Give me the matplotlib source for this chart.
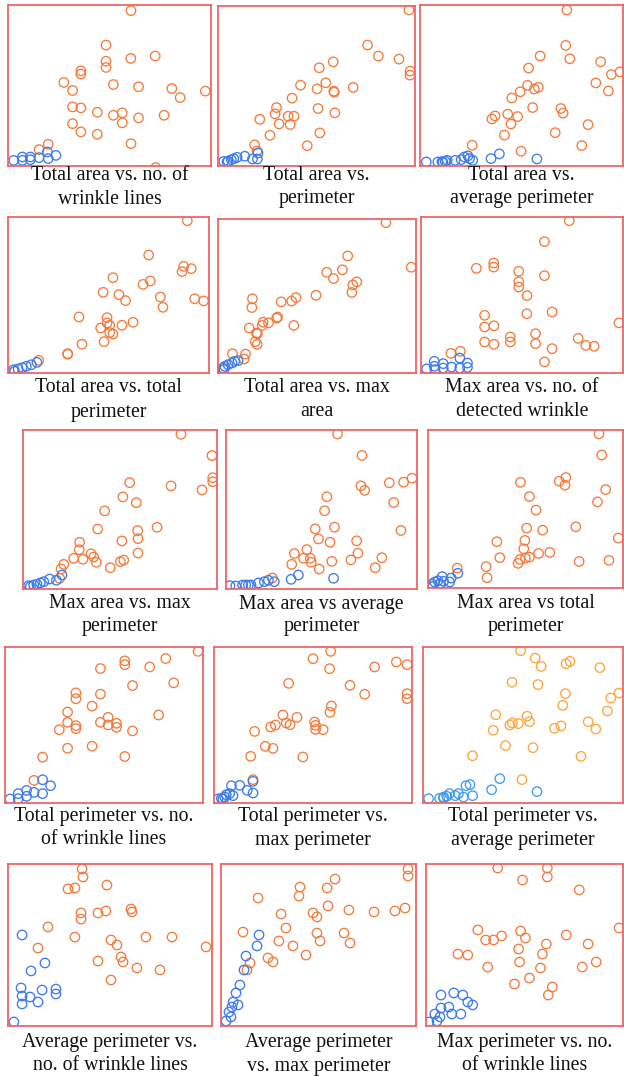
import matplotlib
matplotlib.use("Agg")
import matplotlib.pyplot as plt
import numpy as np

# relative values (0-100), (x, y)
p1_orange = [(60.6, 96.5), (48.3, 75.1), (60.5, 66.8), (72.5, 68.3), (48.3, 65.1), (48.3, 61.2),
             (35.9, 59.1), (35.9, 57.1), (27.5, 51.9), (31.8, 46.9), (51.9, 50.6), (64.3, 49.2),
             (80.7, 48.1), (84.8, 42.5), (97.2, 46.5), (31.8, 36.7), (35.9, 36.1), (44.0, 33.4),
             (51.9, 31.5), (56.3, 33.0), (56.3, 26.8), (64.3, 29.9), (76.9, 31.5), (31.8, 26.3),
             (35.9, 21.2), (44.0, 19.7), (60.6, 13.9), (19.8, 13.5), (15.3, 10.2), (72.7, -1.0)]
p1_blue = [(2.8, 3.5), (7.1, 5.6), (11.0, 5.6), (7.1, 3.5), (11.0, 3.9), (15.3, 5.2),
           (19.4, 8.7), (19.8, 4.6), (23.6, 6.6)]

p2_orange = [(96.9, 97.5), (75.9, 75.6), (81.4, 68.7), (91.9, 66.8), (97.5, 59.3), (97.5, 56.8),
             (58.5, 65.1), (51.4, 61.4), (41.9, 50.5), (54.7, 52.0), (50.3, 48.2), (58.8, 46.8),
             (59.0, 46.1), (68.6, 49.1), (37.6, 42.4), (29.7, 36.5), (29.0, 32.6), (35.6, 31.1),
             (38.6, 31.1), (50.8, 35.9), (59.3, 33.2), (21.2, 29.2), (31.0, 26.3), (36.6, 25.9),
             (26.4, 19.2), (51.7, 20.7), (45.3, 12.7), (18.6, 13.2), (19.8, 9.4)]
p2_blue = [(2.9, 2.9), (5.1, 3.1), (6.8, 3.9), (8.0, 4.6), (9.7, 5.4), (13.6, 6.1),
           (17.5, 4.4), (20.0, 4.4), (20.3, 8.1), (4.6, 2.5)]

p3_orange = [(72.3, 96.9), (71.8, 74.9), (73.8, 66.6), (59.2, 68.3), (89.0, 64.7), (53.5, 60.8),
             (94.3, 56.8), (98.5, 58.5), (86.6, 51.6), (92.8, 46.6), (53.0, 50.1), (49.4, 46.1),
             (56.3, 47.8), (58.3, 48.9), (45.2, 42.2), (55.5, 36.3), (69.4, 35.7), (70.5, 32.8),
             (43.2, 32.2), (48.1, 30.7), (37.0, 31.1), (35.4, 29.2), (44.8, 26.1), (82.8, 25.7),
             (41.6, 19.2), (66.6, 20.7), (25.7, 12.9), (49.8, 9.2), (79.7, 12.7)]
p3_blue = [(3.1, 2.5), (8.8, 2.5), (10.8, 2.7), (12.4, 2.9), (13.4, 3.5), (17.3, 3.5),
           (20.3, 4.0), (21.9, 5.6), (23.6, 6.3), (24.4, 4.6), (26.0, 3.5), (35.0, 4.6),
           (39.1, 7.5), (57.6, 4.4), (11.3, 2.3)]

p4_orange = [(89.2, 97.6), (70.0, 75.6), (87.4, 68.4), (91.2, 66.9), (86.6, 65.0), (52.2, 61.1),
             (70.8, 59.0), (67.2, 56.8), (47.3, 51.7), (55.2, 50.2), (58.5, 46.4), (75.8, 48.7),
             (77.1, 42.1), (92.9, 47.6), (97.3, 46.2), (35.3, 35.9), (49.3, 35.5), (49.3, 32.1),
             (50.6, 30.6), (46.1, 28.8), (56.7, 30.6), (62.2, 32.5), (50.6, 25.9), (52.2, 25.0),
             (47.8, 20.1), (36.8, 18.4), (29.7, 12.4), (29.7, 12.0), (15.3, 8.1)]
p4_blue = [(2.8, 2.1), (5.0, 2.6), (7.1, 3.4), (9.1, 4.3), (11.6, 5.3), (14.4, 6.8), (3.3, 1.1)]

p5_orange = [(84.8, 97.6), (65.5, 76.0), (97.6, 68.7), (54.9, 65.4), (62.8, 67.0), (58.3, 61.3),
             (70.1, 59.2), (68.1, 57.2), (67.6, 52.3), (49.5, 50.5), (39.4, 49.0), (37.2, 46.7),
             (31.9, 46.2), (17.4, 48.2), (17.1, 42.5), (30.1, 36.3), (29.6, 35.6), (25.5, 32.6),
             (22.8, 33.0), (22.3, 30.9), (15.7, 29.2), (19.4, 25.9), (19.9, 25.5), (38.3, 30.9),
             (18.8, 20.3), (19.8, 18.6), (7.3, 12.5), (13.9, 12.3), (13.2, 9.1)]
p5_blue = [(2.5, 3.2), (3.4, 4.3), (5.1, 5.4), (7.1, 6.5), (8.4, 7.6), (10.1, 8.0), (3.0, 2.2)]

p6_orange = [(73.4, 97.6), (61.1, 84.2), (36.0, 70.5), (36.0, 67.9), (27.4, 67.1), (48.4, 65.2),
             (61.1, 62.4), (48.4, 58.5), (48.4, 55.1), (52.5, 49.6), (31.5, 37.0), (52.4, 38.0),
             (64.9, 39.1), (36.1, 30.3), (31.5, 29.5), (98.0, 32.1), (44.2, 23.1), (44.2, 19.9),
             (56.7, 25.2), (56.7, 18.8), (31.5, 19.9), (36.1, 18.4), (64.9, 15.6), (77.8, 22.2),
             (81.6, 17.7), (85.7, 17.1), (61.1, 7.1), (14.8, 12.6), (19.5, 13.9)]
p6_blue = [(2.8, 2.6), (6.6, 7.5), (6.6, 4.3), (11.0, 6.0), (11.0, 3.2), (15.1, 3.8),
           (19.2, 9.6), (19.2, 3.2), (23.0, 6.4), (23.0, 3.6), (6.9, 2.1)]

p7_orange = [(81.4, 97.3), (97.4, 83.9), (97.8, 70.0), (97.8, 67.5), (55.0, 66.9), (76.3, 64.8),
             (92.3, 62.3), (51.5, 57.9), (58.4, 54.3), (42.1, 49.1), (38.5, 37.7), (69.1, 38.8),
             (59.1, 36.7), (59.3, 31.7), (51.0, 30.2), (29.2, 29.4), (29.0, 24.7), (35.1, 22.2),
             (36.4, 20.1), (37.8, 16.8), (26.1, 19.3), (30.9, 18.7), (59.3, 22.6), (51.9, 18.2),
             (50.2, 17.2), (45.0, 13.4), (21.0, 15.5), (19.6, 12.6), (18.9, 6.7)]
p7_blue = [(2.9, 2.1), (5.5, 2.5), (7.2, 2.9), (8.9, 3.8), (10.7, 4.6), (13.7, 6.3),
           (17.2, 5.5), (20.1, 8.8), (3.8, 1.5)]

p8_orange = [(58.4, 97.5), (71.2, 84.0), (85.5, 66.8), (93.0, 67.2), (97.4, 69.7), (70.6, 64.9),
             (72.6, 62.0), (52.8, 58.0), (87.8, 54.4), (51.6, 49.2), (56.8, 38.9), (46.7, 37.8),
             (48.4, 31.5), (54.5, 29.4), (91.6, 36.8), (68.4, 30.3), (69.1, 22.5), (42.3, 24.8),
             (35.8, 22.3), (40.6, 19.3), (44.1, 19.3), (44.6, 16.8), (34.4, 15.5), (55.4, 17.4),
             (65.4, 18.3), (81.6, 19.7), (78.1, 13.4), (48.8, 12.6), (24.3, 6.9)]
p8_blue = [(2.1, 2.1), (8.7, 2.5), (10.3, 2.5), (11.7, 2.5), (13.1, 2.5), (17.0, 3.8),
           (20.1, 4.6), (22.2, 5.5), (25.3, 4.6), (34.1, 6.1), (37.9, 8.8), (56.3, 6.7), (5.1, 1.9)]

p9_orange = [(87.7, 97.5), (89.1, 84.2), (70.7, 69.9), (67.3, 67.6), (70.2, 65.1), (47.4, 66.9),
             (91.1, 62.3), (86.9, 54.5), (52.0, 57.9), (55.4, 49.3), (75.8, 38.7), (50.6, 37.9),
             (58.8, 36.6), (97.6, 31.6), (35.3, 29.3), (49.7, 30.1), (49.1, 24.8), (62.5, 22.5),
             (56.7, 21.9), (52.0, 19.6), (49.9, 18.9), (47.2, 18.1), (46.2, 15.6), (36.8, 19.2),
             (77.5, 16.8), (92.8, 17.5), (29.8, 13.5), (30.3, 6.5), (15.0, 12.6)]
p9_blue = [(2.2, 2.5), (3.4, 3.8), (5.1, 4.6), (7.3, 7.2), (8.0, 4.2), (11.1, 3.8),
           (11.9, 6.3), (15.3, 9.3), (2.6, 1.1), (6.0, 2.5)]

p10_orange = [(97.5, 97.2), (81.2, 92.6), (60.5, 91.1), (60.5, 88.7), (73.1, 87.2), (48.2, 86.2),
              (85.2, 77.0), (64.4, 75.3), (35.8, 70.6), (35.8, 66.8), (48.2, 69.8), (44.0, 62.1),
              (31.6, 58.3), (77.6, 56.4), (52.1, 54.9), (31.6, 51.7), (35.8, 49.6), (35.8, 47.7),
              (48.2, 51.7), (52.1, 50.0), (56.3, 51.1), (56.3, 48.5), (64.4, 46.2), (27.4, 47.0),
              (31.6, 35.1), (44.0, 36.4), (60.5, 29.8), (19.0, 29.4), (14.6, 14.5)]
p10_blue = [(2.5, 2.6), (6.7, 6.0), (6.7, 2.8), (10.9, 8.1), (10.9, 4.3), (14.6, 6.8),
            (19.0, 14.9), (19.0, 6.0), (23.0, 11.1)]

p11_orange = [(58.9, 97.2), (50.0, 92.5), (92.1, 90.4), (97.5, 88.7), (81.1, 87.2), (58.4, 86.1),
              (37.7, 76.7), (68.7, 75.4), (76.1, 69.7), (97.5, 70.1), (97.5, 66.9), (59.3, 62.2),
              (58.6, 58.1), (34.8, 56.4), (41.9, 54.9), (36.5, 51.3), (38.4, 50.2), (50.8, 51.9),
              (51.3, 49.8), (51.3, 47.2), (55.1, 47.0), (31.0, 50.0), (28.6, 48.7), (20.5, 45.9),
              (25.9, 36.3), (29.8, 35.0), (18.5, 29.9), (44.9, 29.5), (19.7, 15.0)]
p11_blue = [(2.0, 2.6), (3.7, 3.0), (5.4, 3.8), (6.2, 5.3), (7.9, 6.0), (8.8, 11.1),
            (9.6, 4.7), (13.0, 11.3), (16.8, 8.1), (19.7, 6.4), (19.7, 13.9), (4.5, 2.6)]

p12_orange = [(48.8, 97.6), (56.1, 92.9), (59.1, 87.6), (71.5, 89.3), (73.5, 90.8), (88.4, 86.8),
              (44.5, 77.4), (57.5, 75.9), (71.2, 70.1), (98.0, 70.5), (93.9, 67.3), (69.9, 62.6),
              (92.2, 59.0), (36.4, 56.6), (52.0, 55.6), (53.3, 52.1), (43.4, 50.0), (44.7, 51.3),
              (47.7, 50.9), (35.1, 46.6), (65.7, 47.9), (69.0, 49.4), (82.6, 52.1), (86.4, 47.4),
              (41.2, 36.8), (55.0, 35.5), (79.0, 29.9), (24.8, 30.3), (49.5, 15.0)]
p12_blue = [(2.8, 2.8), (8.3, 3.0), (10.3, 3.8), (11.9, 4.3), (13.2, 6.0), (16.1, 4.7),
            (17.7, 6.0), (20.2, 3.8), (21.5, 11.1), (23.5, 11.8), (24.8, 4.7), (34.3, 8.5),
            (38.4, 15.6), (57.0, 7.3), (10.3, 3.0)]

p13_orange = [(36.3, 96.9), (36.8, 92.0), (29.4, 84.6), (32.8, 85.2), (48.5, 87.0), (19.6, 61.1),
              (35.8, 69.8), (35.8, 66.0), (44.1, 69.8), (48.0, 71.0), (60.3, 72.2), (60.8, 70.4),
              (32.8, 54.9), (50.5, 53.1), (53.4, 50.0), (67.6, 54.9), (80.4, 54.9), (14.7, 48.1),
              (44.1, 40.1), (55.4, 42.6), (56.4, 39.5), (97.1, 48.8), (63.2, 35.8), (74.5, 34.6),
              (50.5, 28.4)]
p13_blue = [(6.9, 56.2), (11.3, 34.0), (18.1, 38.9), (6.4, 23.5), (6.9, 18.5), (10.8, 17.9),
            (16.7, 22.2), (23.5, 22.8), (23.5, 19.8), (6.9, 13.6), (2.9, 2.5), (14.7, 14.8)]

p14_orange = [(95.9, 96.9), (95.9, 92.6), (58.5, 90.7), (54.4, 85.2), (40.5, 85.8), (40.0, 80.2),
              (19.0, 79.0), (54.9, 74.1), (78.5, 70.4), (47.2, 69.8), (49.2, 67.3), (30.8, 69.1),
              (65.6, 71.6), (94.4, 72.8), (89.2, 71.0), (33.3, 60.5), (49.2, 57.4), (50.8, 52.5),
              (11.3, 58.0), (29.7, 52.5), (36.9, 49.4), (24.1, 42.0), (26.7, 39.5), (13.3, 34.6),
              (14.9, 38.9), (63.1, 57.4), (66.2, 51.2), (43.6, 43.8)]
p14_blue = [(19.5, 56.2), (18.5, 49.4), (12.8, 43.2), (11.8, 34.6), (9.7, 25.3), (7.7, 20.4),
            (6.2, 14.8), (5.6, 11.7), (4.1, 8.6), (5.1, 5.6), (2.6, 3.1), (8.7, 13.0)]

p15_orange = [(36.4, 97.5), (61.6, 97.5), (61.6, 92.0), (49.0, 90.1), (77.8, 84.0), (98.0, 60.5),
              (26.3, 59.3), (30.3, 53.1), (34.3, 53.1), (38.4, 55.6), (48.0, 58.6), (50.5, 54.3),
              (61.1, 50.6), (71.2, 56.2), (47.0, 47.5), (59.1, 44.4), (82.3, 50.6), (16.2, 44.4),
              (21.2, 43.8), (47.5, 39.5), (31.3, 36.4), (58.1, 35.8), (52.5, 29.6), (86.4, 39.5),
              (79.3, 36.4), (44.9, 25.9), (64.1, 24.1), (62.1, 19.1)]
p15_blue = [(7.6, 19.1), (14.1, 20.4), (18.7, 19.1), (21.2, 14.8), (23.7, 13.0), (7.6, 11.1),
            (11.6, 11.7), (4.5, 7.4), (7.1, 5.6), (13.1, 7.4), (17.7, 7.4), (1.5, 2.5), (5.6, 3.1)]

captions = [
    ("Total area vs. no. of", "wrinkle lines"),
    ("Total area vs.", "perimeter"),
    ("Total area vs.", "average perimeter"),
    ("Total area vs. total", "perimeter"),
    ("Total area vs. max", "area"),
    ("Max area vs. no. of", "detected wrinkle"),
    ("Max area vs. max", "perimeter"),
    ("Max area vs average", "perimeter"),
    ("Max area vs total", "perimeter"),
    ("Total perimeter vs. no.", "of wrinkle lines"),
    ("Total perimeter vs.", "max perimeter"),
    ("Total perimeter vs.", "average perimeter"),
    ("Average perimeter vs.", "no. of wrinkle lines"),
    ("Average perimeter", "vs. max perimeter"),
    ("Max perimeter vs. no.", "of wrinkle lines"),
]

oranges = [p1_orange, p2_orange, p3_orange, p4_orange, p5_orange, p6_orange, p7_orange, p8_orange,
           p9_orange, p10_orange, p11_orange, p12_orange, p13_orange, p14_orange, p15_orange]
blues = [p1_blue, p2_blue, p3_blue, p4_blue, p5_blue, p6_blue, p7_blue, p8_blue,
         p9_blue, p10_blue, p11_blue, p12_blue, p13_blue, p14_blue, p15_blue]

# panel boxes in pixels: left, top, right, bottom
boxes = [(8, 5, 211, 166), (218, 6, 415, 166), (420, 5, 623, 166),
         (8, 217, 209, 373), (218, 219, 416, 373), (421, 217, 623, 373),
         (23, 430, 217, 589), (226, 430, 417, 589), (428, 430, 623, 588),
         (5, 647, 203, 803), (214, 647, 412, 803), (423, 647, 623, 803),
         (8, 864, 212, 1026), (221, 864, 416, 1026), (426, 864, 623, 1026)]
cap_rows = [(175, 199), (388, 412), (604, 627), (816, 840), (1042, 1066)]

W, H = 624, 1076
fig = plt.figure(figsize=(W / 100, H / 100), dpi=100)
fig.patch.set_facecolor("white")

for i in range(15):
    l, t, r, b = boxes[i]
    ax = fig.add_axes([l / W, 1 - b / H, (r - l) / W, (b - t) / H])
    ax.set_xlim(0, 100)
    ax.set_ylim(0, 100)
    ax.set_xticks([])
    ax.set_yticks([])
    for s in ax.spines.values():
        s.set_color("#f06464")
        s.set_linewidth(1.3)
    if i == 11:
        oc, bc = "#ffa43a", "#3c9cf5"
    else:
        oc, bc = "#f57a3a", "#3b7bef"
    o = np.array(oranges[i])
    bl = np.array(blues[i])
    ax.scatter(o[:, 0], o[:, 1], s=46, facecolors="none", edgecolors=oc, linewidths=0.95)
    ax.scatter(bl[:, 0], bl[:, 1], s=46, facecolors="none", edgecolors=bc, linewidths=0.95)

    cx = (l + r) / 2 / W
    y1, y2 = cap_rows[i // 3]
    fig.text(cx, 1 - y1 / H, captions[i][0], ha="center", va="center",
             family="Liberation Serif", fontsize=14.3, color="#111111")
    fig.text(cx, 1 - y2 / H, captions[i][1], ha="center", va="center",
             family="Liberation Serif", fontsize=14.3, color="#111111")

fig.savefig("out.png", dpi=100, facecolor="white")
